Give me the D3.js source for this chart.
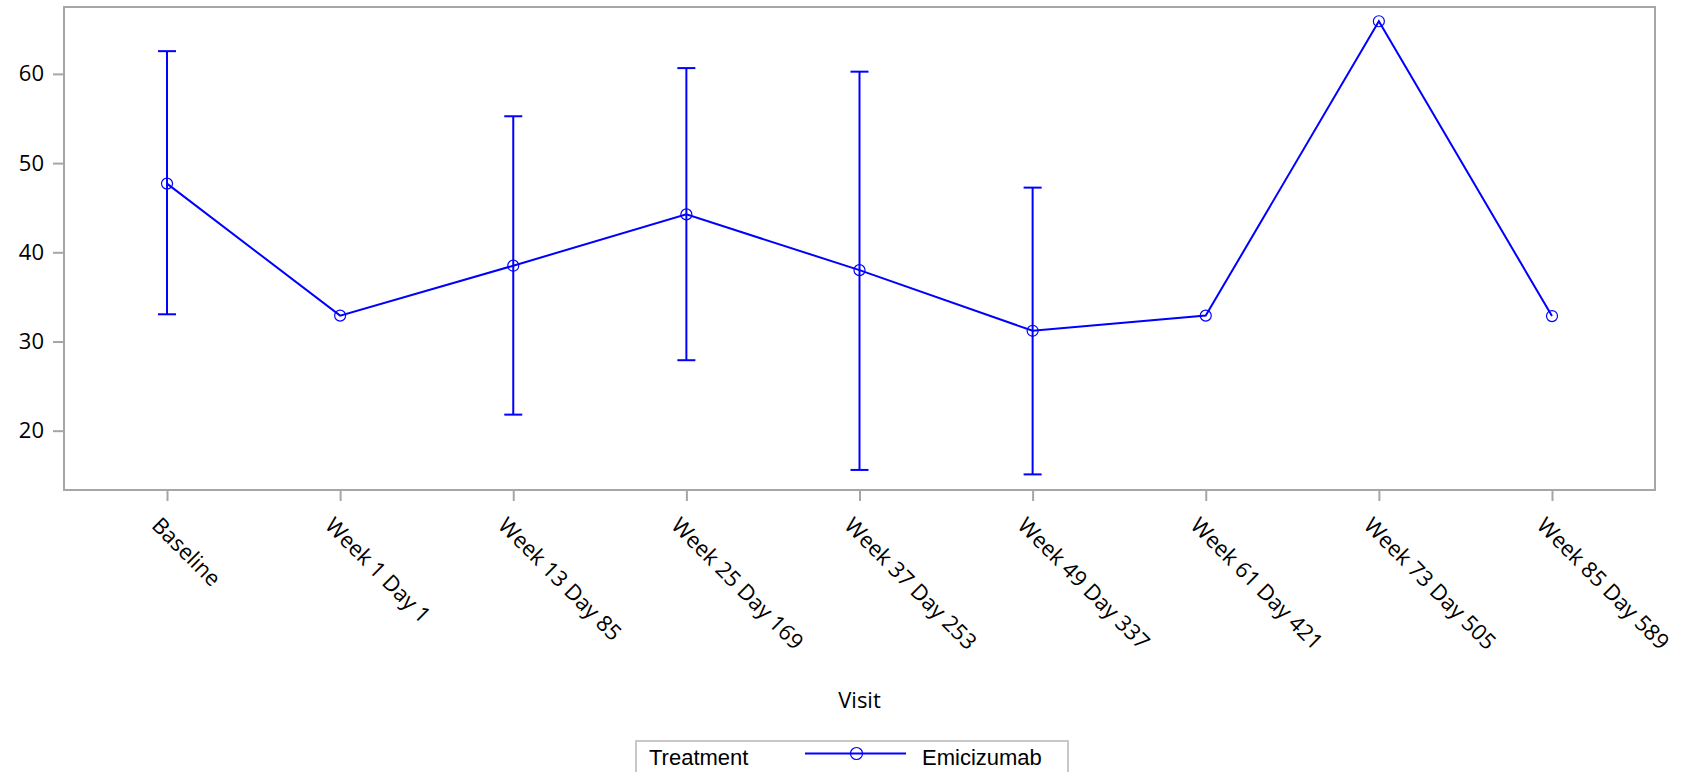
<!DOCTYPE html>
<html>
<head>
<meta charset="utf-8">
<script src="https://cdn.jsdelivr.net/npm/d3@7"></script>
<style>
  html, body { margin: 0; padding: 0; background: #fff; }
  svg { display: block; }
</style>
</head>
<body>
<svg id="chart" width="1686" height="772"></svg>
<script>
const visits = ["Baseline", "Week 1 Day 1", "Week 13 Day 85", "Week 25 Day 169", "Week 37 Day 253",
                "Week 49 Day 337", "Week 61 Day 421", "Week 73 Day 505", "Week 85 Day 589"];
const means = [47.7, 32.9, 38.5, 44.25, 38.0, 31.2, 32.9, 65.9, 32.85];
const upper = [62.55, null, 55.25, 60.65, 60.25, 47.25, null, null, null];
const lower = [33.05, null, 21.8, 27.9, 15.6, 15.1, null, null, null];
const yTicks = [20, 30, 40, 50, 60];
const seriesName = "Emicizumab";
const legendTitle = "Treatment";
const xTitle = "Visit";

const svg = d3.select("#chart");
const frame = { left: 64, right: 1655, top: 7, bottom: 490 };
const blue = "#0000ff";
const gray = "#a6a6a6";
const axisFont = "'Open Sans', 'DejaVu Sans', sans-serif";

const x = d3.scalePoint().domain(visits).range([frame.left, frame.right]).padding(0.595);
const y = d3.scaleLinear().domain([13.35, 67.5]).range([frame.bottom, frame.top]);

// frame
svg.append("rect")
  .attr("x", frame.left).attr("y", frame.top)
  .attr("width", frame.right - frame.left).attr("height", frame.bottom - frame.top)
  .attr("fill", "none").attr("stroke", gray).attr("stroke-width", 2);

// y axis
const yAxis = svg.append("g").attr("transform", `translate(${frame.left},0)`)
  .call(d3.axisLeft(y).tickValues(yTicks).tickSize(11).tickPadding(9));
yAxis.select(".domain").remove();
yAxis.selectAll(".tick line").attr("stroke", gray).attr("stroke-width", 2);
yAxis.selectAll(".tick text").attr("font-family", axisFont).attr("font-size", 22).attr("fill", "#000");

// x axis
const xAxis = svg.append("g").attr("transform", `translate(0,${frame.bottom})`)
  .call(d3.axisBottom(x).tickSize(11).tickPadding(0));
xAxis.select(".domain").remove();
xAxis.selectAll(".tick line").attr("stroke", gray).attr("stroke-width", 2);
xAxis.selectAll(".tick text")
  .attr("font-family", axisFont).attr("font-size", 22).attr("fill", "#000")
  .attr("text-anchor", "start")
  .attr("dy", null)
  .attr("x", 14).attr("y", 38)
  .attr("transform", "rotate(45)");

// x title
svg.append("text")
  .attr("x", (frame.left + frame.right) / 2).attr("y", 708)
  .attr("text-anchor", "middle")
  .attr("font-family", axisFont).attr("font-size", 22).attr("fill", "#000")
  .text(xTitle);

// error bars
const data = visits.map((v, i) => ({ v, m: means[i], hi: upper[i], lo: lower[i] }));
const eb = data.filter(d => d.hi != null && d.lo != null);
const capW = 9;
const ebG = svg.append("g").attr("stroke", blue).attr("stroke-width", 2).attr("fill", "none");
ebG.selectAll("line.stem").data(eb).join("line").attr("class", "stem")
  .attr("x1", d => x(d.v)).attr("x2", d => x(d.v))
  .attr("y1", d => y(d.hi)).attr("y2", d => y(d.lo));
ebG.selectAll("line.capHi").data(eb).join("line").attr("class", "capHi")
  .attr("x1", d => x(d.v) - capW).attr("x2", d => x(d.v) + capW)
  .attr("y1", d => y(d.hi)).attr("y2", d => y(d.hi));
ebG.selectAll("line.capLo").data(eb).join("line").attr("class", "capLo")
  .attr("x1", d => x(d.v) - capW).attr("x2", d => x(d.v) + capW)
  .attr("y1", d => y(d.lo)).attr("y2", d => y(d.lo));

// line
const line = d3.line().x(d => x(d.v)).y(d => y(d.m));
svg.append("path").datum(data)
  .attr("d", line).attr("fill", "none").attr("stroke", blue).attr("stroke-width", 2);

// markers
svg.append("g").selectAll("circle").data(data).join("circle")
  .attr("cx", d => x(d.v)).attr("cy", d => y(d.m)).attr("r", 5.5)
  .attr("fill", "none").attr("stroke", blue).attr("stroke-width", 1.2);

// legend
const lg = svg.append("g");
lg.append("rect").attr("x", 636).attr("y", 741).attr("width", 432).attr("height", 36)
  .attr("fill", "#fff").attr("stroke", "#c8c8c8").attr("stroke-width", 2);
lg.append("text").attr("x", 649).attr("y", 765)
  .attr("font-family", "'Liberation Sans', Arial, sans-serif").attr("font-size", 22).attr("fill", "#000")
  .text(legendTitle);
lg.append("line").attr("x1", 805).attr("x2", 906).attr("y1", 753.5).attr("y2", 753.5)
  .attr("stroke", blue).attr("stroke-width", 2);
lg.append("circle").attr("cx", 856.5).attr("cy", 753.5).attr("r", 6)
  .attr("fill", "none").attr("stroke", blue).attr("stroke-width", 1.2);
lg.append("text").attr("x", 922).attr("y", 765)
  .attr("font-family", "'Liberation Sans', Arial, sans-serif").attr("font-size", 22).attr("fill", "#000")
  .text(seriesName);
</script>
</body>
</html>
